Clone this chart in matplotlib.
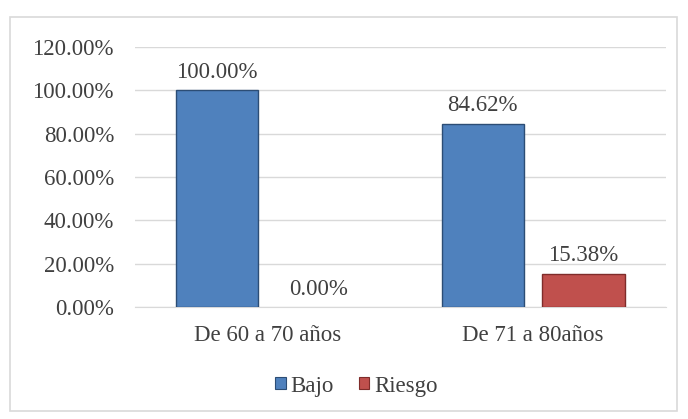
import numpy as np
import matplotlib.pyplot as plt
from matplotlib.patches import Rectangle

categories = ["De 60 a 70 años", "De 71 a 80años"]
bajo = [100.00, 84.62]
riesgo = [0.00, 15.38]
yticks = [0, 20, 40, 60, 80, 100, 120]

plt.rcParams['font.family'] = ['Liberation Serif', 'DejaVu Serif']
txt = '#404040'
fs = 16.5

fig = plt.figure(figsize=(6.88, 4.19), dpi=100)
ax = fig.add_axes([0.196, 0.267, 0.772, 0.621])

# light border around the chart area
fig.patches.append(Rectangle((10 / 688, 1 - 411 / 419), 667 / 688, 394 / 419,
                             transform=fig.transFigure, fill=False,
                             edgecolor='#d9d9d9', lw=1.2))

x = np.arange(len(categories))
w = 0.31
off = 0.19
b1 = ax.bar(x - off, bajo, w, color='#4f81bd', edgecolor='#2c4d75', lw=1.0, zorder=3,
            label='Bajo')
b2 = ax.bar(x + off, riesgo, w, color='#c0504d', edgecolor=['none', '#7f2c2a'], lw=1.0,
            zorder=3, label='Riesgo')

for bars, vals in [(b1, bajo), (b2, riesgo)]:
    for r, v in zip(bars, vals):
        ax.text(r.get_x() + r.get_width() / 2, v + 3.5, "%.2f%%" % v,
                ha='center', va='bottom', fontsize=fs, color=txt)

ax.set_xlim(-0.5, 1.5)
ax.set_ylim(0, 120)
ax.set_yticks(yticks)
ax.set_yticklabels(["%.2f%%" % t for t in yticks], fontsize=fs, color=txt)
ax.set_xticks(x)
ax.set_xticklabels(categories, fontsize=fs, color=txt)
ax.tick_params(length=0)
ax.tick_params(axis='y', pad=15)
ax.tick_params(axis='x', pad=13)
ax.grid(axis='y', color='#d9d9d9', lw=1.0, zorder=0)
for s in ['top', 'right', 'left']:
    ax.spines[s].set_visible(False)
ax.spines['bottom'].set_color('#d9d9d9')

h1 = Rectangle((0, 0), 1, 1, facecolor='#4f81bd', edgecolor='#2c4d75', lw=0.8)
h2 = Rectangle((0, 0), 1, 1, facecolor='#c0504d', edgecolor='#7f2c2a', lw=0.8)
fig.legend([h1, h2], ['Bajo', 'Riesgo'], loc='center',
           bbox_to_anchor=(0.518, 1 - 386 / 419), ncol=2, frameon=False,
           fontsize=fs, handlelength=0.45, handleheight=0.45, handletextpad=0.2,
           columnspacing=1.1, labelcolor=txt)

fig.savefig('out.png', dpi=100)
